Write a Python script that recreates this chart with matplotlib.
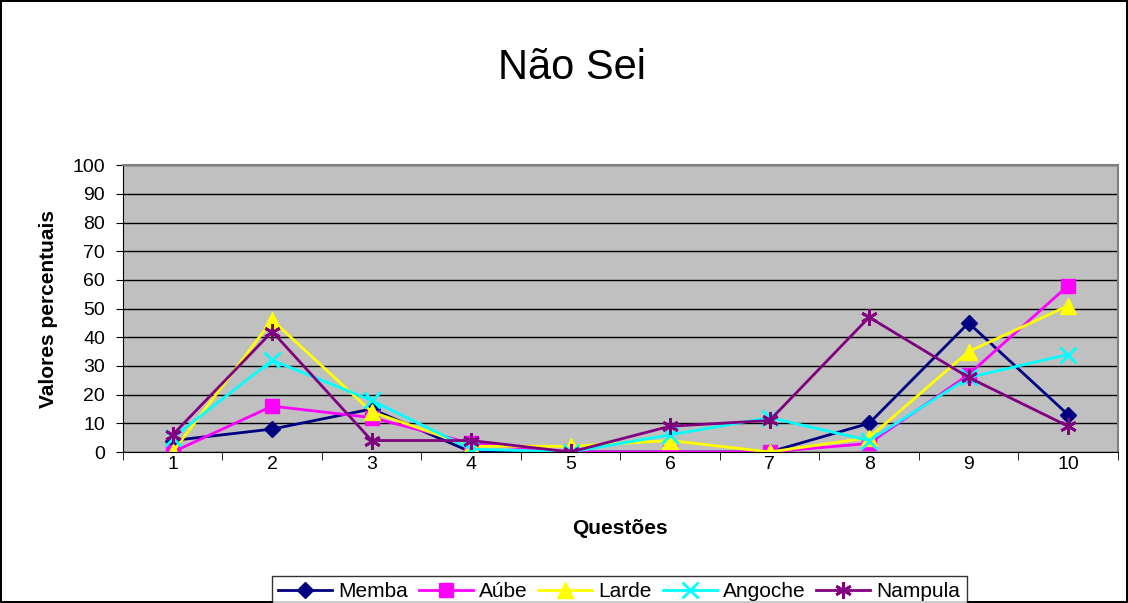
import matplotlib
matplotlib.use("Agg")
import matplotlib.pyplot as plt
import numpy as np

questoes = [1, 2, 3, 4, 5, 6, 7, 8, 9, 10]
memba = [4, 8, 15, 0, 0, 0, 0, 10, 45, 13]
aube = [0, 16, 12, 3, 0, 0, 0, 3, 27, 58]
larde = [0, 46, 14, 2, 2, 4, 0, 5, 35, 51]
angoche = [5, 32, 18, 1, 0, 6, 12, 4, 26, 34]
nampula = [6, 42, 4, 4, 0, 9, 11, 47, 26, 9]

plt.rcParams['font.family'] = ['Liberation Sans', 'DejaVu Sans']

fig = plt.figure(figsize=[11.28, 6.03], dpi=100)
fig.patch.set_edgecolor('black')
fig.patch.set_linewidth(1.5)
ax = fig.add_axes([0.109, 0.2504, 0.882, 0.4756])
ax.set_facecolor('#C0C0C0')

ax.plot(questoes, memba, color='#000080', marker='D', markersize=8, lw=2, label='Memba')
ax.plot(questoes, aube, color='#FF00FF', marker='s', markersize=10, lw=2, label='Aúbe')
ax.plot(questoes, larde, color='#FFFF00', marker='^', markersize=11, lw=2, label='Larde')
ax.plot(questoes, angoche, color='#00FFFF', marker='x', markersize=11, mew=2, lw=2, label='Angoche')
ax.plot(questoes, nampula, color='#800080', marker=(6, 2, 0), markersize=12, mew=2, lw=2, label='Nampula')

ax.set_xlim(0.5, 10.5)
ax.set_ylim(0, 100)
ax.set_yticks(np.arange(0, 101, 10))
ax.set_xticks(questoes)
ax.set_xticks(np.arange(0.5, 10.6, 1), minor=True)
ax.tick_params(axis='x', which='major', length=0, labelsize=14, pad=3)
ax.tick_params(axis='x', which='minor', length=6, direction='out')
ax.tick_params(axis='y', labelsize=14, length=5, pad=8)
ax.yaxis.grid(True, color='black', lw=1)
ax.set_axisbelow(True)
for s in ['top', 'right']:
    ax.spines[s].set_color('#808080')
    ax.spines[s].set_linewidth(1.5)

ax.set_xlabel('Questões', fontsize=15, fontweight='bold', labelpad=33)
ax.set_ylabel('Valores percentuais', fontsize=15, fontweight='bold', labelpad=10)
fig.text(0.507, 0.887, 'Não Sei', fontsize=30, ha='center', va='center')

leg = fig.legend(loc='upper center', bbox_to_anchor=(0.549, 0.062), ncol=5, frameon=True,
                 fancybox=False, edgecolor='black', fontsize=15, handlelength=2.6,
                 columnspacing=0.5, handletextpad=0.3, borderpad=0.3)
leg.get_frame().set_linewidth(1)

fig.savefig('out.png', dpi=100, edgecolor=fig.get_edgecolor())
